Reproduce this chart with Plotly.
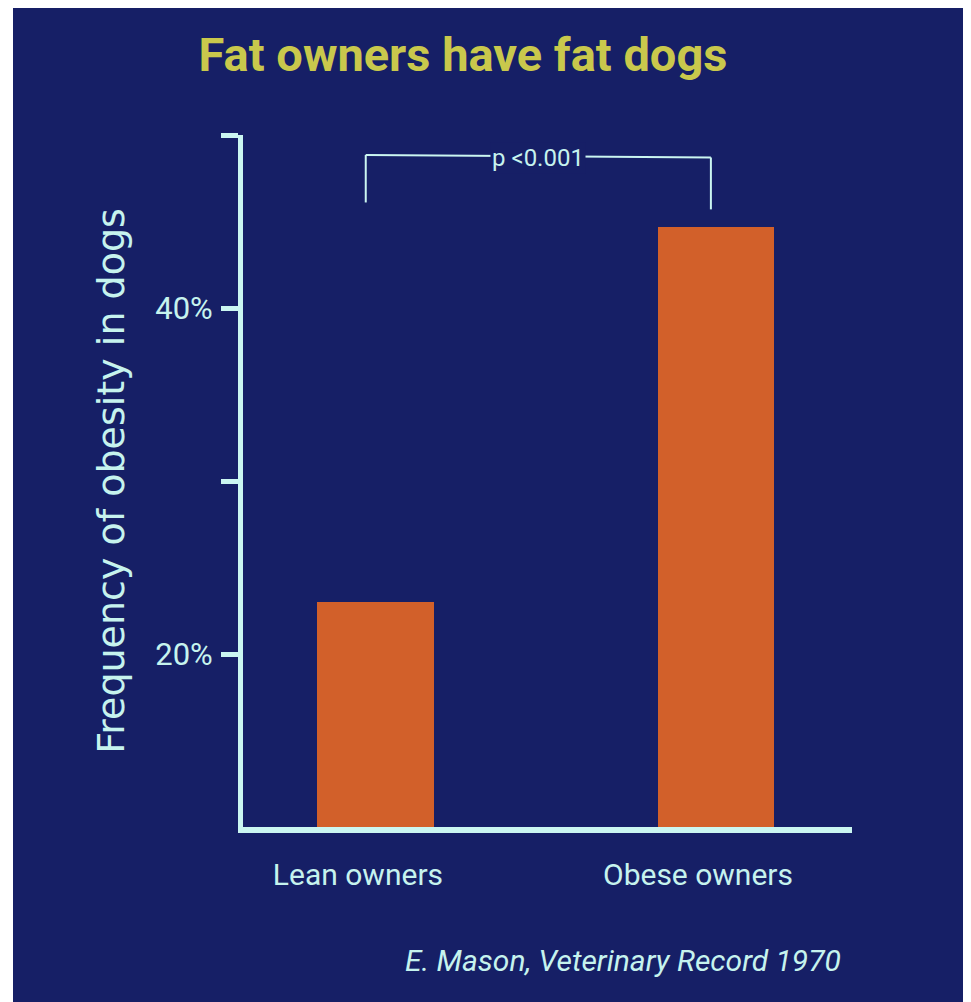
import plotly.graph_objects as go

# ---- data ----
categories = ["Lean owners", "Obese owners"]
obesity_pct = [23.0, 44.7]
y_tick_vals = [20, 30, 40, 50]
y_tick_text = ["20%", "", "40%", ""]
p_label = "p <0.001"
title_text = "Fat owners have fat dogs"
y_title = "Frequency of obesity in dogs"
source_text = "E. Mason, Veterinary Record 1970"

# ---- style ----
NAVY = "#161f66"
CYAN = "#c6f3ee"
LINE = "#cbf6f1"
ORANGE = "#d2602a"
YELLOW = "#c9c84c"
NARROW = "Nimbus Sans Narrow, Liberation Sans Narrow, Roboto, sans-serif"

W, H = 963, 994
L, R, T, B = 235, 119, 127, 175
PW, PH = W - L - R, H - T - B

fig = go.Figure()
fig.add_trace(go.Bar(
    x=list(range(len(categories))),
    y=obesity_pct,
    base=0,
    width=0.344,
    marker=dict(color=ORANGE, line=dict(width=0)),
    hoverinfo="skip",
))

# significance bracket, derived from the data
top = max(obesity_pct)
bracket_y = top + 4.15
x_left, x_right = -0.03, 0.985
fig.add_shape(type="line", xref="x", yref="y", x0=x_left, x1=x_left,
              y0=top + 1.4, y1=bracket_y, line=dict(color=LINE, width=2))
fig.add_shape(type="line", xref="x", yref="y", x0=x_left, x1=x_right,
              y0=bracket_y, y1=bracket_y - 0.15, line=dict(color=LINE, width=2))
fig.add_shape(type="line", xref="x", yref="y", x0=x_right, x1=x_right,
              y0=top + 1.0, y1=bracket_y - 0.15, line=dict(color=LINE, width=2))
fig.add_annotation(x=(x_left + x_right) / 2, y=bracket_y - 0.2, xref="x", yref="y",
                   text=p_label, showarrow=False, bgcolor=NAVY, borderpad=1,
                   font=dict(family=NARROW, size=24, color=CYAN),
                   xanchor="center", yanchor="middle")

# white photo edge on the left
fig.add_shape(type="rect", xref="paper", yref="paper",
              x0=(0 - L) / PW - 0.01, x1=(5 - L) / PW,
              y0=-B / PH - 0.02, y1=(H - B) / PH + 0.02,
              fillcolor="white", line=dict(width=0), layer="below")

# source
fig.add_annotation(x=(835 - L) / PW, y=(H - B - 952) / PH,
                   xref="paper", yref="paper", text=source_text, showarrow=False,
                   xanchor="right", yanchor="middle",
                   font=dict(family=NARROW, size=30, color=CYAN, style="italic"))

fig.update_layout(
    width=W, height=H,
    margin=dict(l=L, r=R, t=T, b=B),
    paper_bgcolor=NAVY, plot_bgcolor=NAVY,
    showlegend=False,
    bargap=0,
    title=dict(text=title_text, x=(455 - L) / PW, xref="paper",
               xanchor="center", y=1 - 47 / H, yanchor="middle",
               font=dict(family=NARROW, size=47, color=YELLOW, weight="bold")),
    xaxis=dict(
        range=[-0.391, 1.40],
        tickvals=list(range(len(categories))), ticktext=categories,
        showline=True, linecolor=LINE, linewidth=6,
        showgrid=False, zeroline=False, ticks="",
        tickfont=dict(family=NARROW, size=30, color=CYAN),
        ticklabelstandoff=16, ticklabelshift=-18,
    ),
    yaxis=dict(
        range=[10, 50],
        tickvals=y_tick_vals, ticktext=y_tick_text,
        showline=True, linecolor=LINE, linewidth=5,
        ticks="outside", ticklen=17, tickwidth=5, tickcolor=LINE,
        showgrid=False, zeroline=False,
        tickfont=dict(family=NARROW, size=31, color=CYAN),
        ticklabelstandoff=2,
        title=dict(text=y_title, standoff=20,
                   font=dict(family="DejaVu Sans, Verdana, sans-serif", size=38, color=CYAN)),
    ),
)

fig.write_html("out.html")
